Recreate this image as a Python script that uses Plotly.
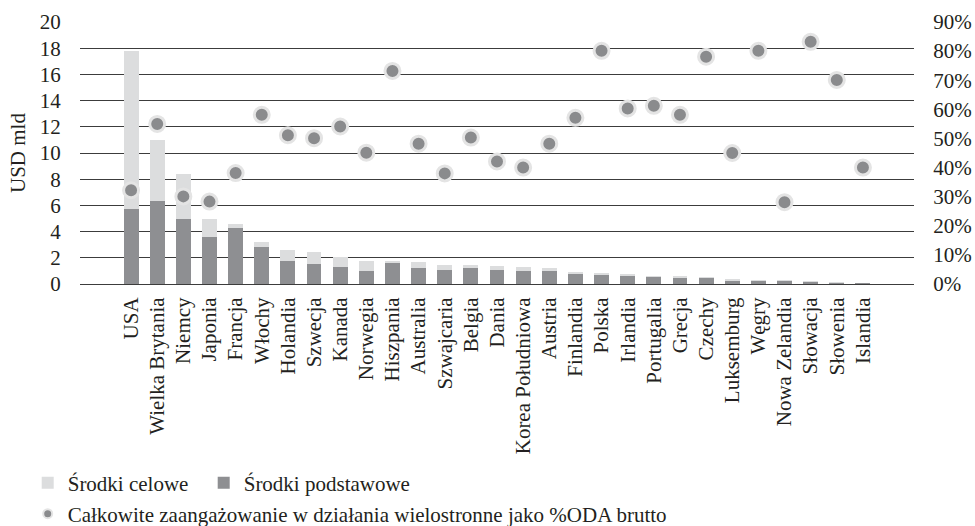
import plotly.graph_objects as go

countries = ["USA", "Wielka Brytania", "Niemcy", "Japonia", "Francja", "Włochy", "Holandia",
             "Szwecja", "Kanada", "Norwegia", "Hiszpania", "Australia", "Szwajcaria", "Belgia",
             "Dania", "Korea Południowa", "Austria", "Finlandia", "Polska", "Irlandia",
             "Portugalia", "Grecja", "Czechy", "Luksemburg", "Węgry", "Nowa Zelandia",
             "Słowacja", "Słowenia", "Islandia"]

srodki_podstawowe = [5.74, 6.35, 4.98, 3.58, 4.24, 2.80, 1.75, 1.50, 1.27, 0.97, 1.65, 1.19,
                     1.07, 1.19, 1.07, 1.02, 1.02, 0.76, 0.76, 0.64, 0.58, 0.53, 0.48, 0.28,
                     0.28, 0.23, 0.18, 0.08, 0.03]
srodki_celowe = [12.06, 4.65, 3.42, 1.40, 0.36, 0.40, 0.85, 0.96, 0.81, 0.81, 0.07, 0.49,
                 0.40, 0.28, 0.33, 0.30, 0.17, 0.18, 0.03, 0.10, 0.02, 0.02, 0.02, 0.13,
                 0.02, 0.01, 0.01, 0.01, 0.0]
procent_oda = [32.2, 55.0, 30.1, 28.3, 38.1, 58.1, 51.1, 50.1, 54.1, 45.1, 73.2, 48.2, 38.0,
               50.3, 42.1, 40.0, 48.2, 57.1, 80.1, 60.3, 61.2, 58.1, 78.1, 45.0, 80.1, 28.1,
               83.2, 70.1, 40.0]

FONT = "Liberation Serif, Times New Roman, DejaVu Serif, serif"
TXT = "#231f20"
FS = 21
SCATTER_NAME = "Całkowite zaangażowanie w działania wielostronne jako %ODA brutto"

fig = go.Figure()
fig.add_trace(go.Bar(x=countries, y=srodki_podstawowe, name="Środki podstawowe",
                     marker=dict(color="#8e8f92", line=dict(width=0)), legend="legend3"))
fig.add_trace(go.Bar(x=countries, y=srodki_celowe, name="Środki celowe",
                     marker=dict(color="#dcddde", line=dict(width=0)), legend="legend"))
fig.add_trace(go.Scatter(x=countries, y=procent_oda, yaxis="y2", mode="markers",
                         name=SCATTER_NAME, showlegend=False,
                         marker=dict(size=15, color="#8a8b8d", line=dict(width=3, color="#e4e4e4"))))
# legend-only entry with a smaller symbol, as in the reference legend
fig.add_trace(go.Scatter(x=[None], y=[None], yaxis="y2", mode="markers", name=SCATTER_NAME,
                         marker=dict(size=9, color="#8a8b8d", line=dict(width=2, color="#e4e4e4")),
                         legend="legend2", hoverinfo="skip"))

leg_common = dict(orientation="h", xref="container", yref="container", xanchor="left",
                  yanchor="middle", font=dict(size=FS, family=FONT, color=TXT), itemwidth=30,
                  bgcolor="rgba(0,0,0,0)")

fig.update_layout(
    width=975, height=526,
    barmode="stack", bargap=0.43,
    paper_bgcolor="white", plot_bgcolor="white",
    font=dict(family=FONT, size=FS, color=TXT),
    margin=dict(l=80, r=61, t=22, b=242),
    showlegend=True,
    xaxis=dict(tickangle=-90, showgrid=False, showline=False, ticks="outside", ticklen=4,
               tickcolor="rgba(0,0,0,0)", automargin=False,
               tickfont=dict(size=FS, family=FONT, color=TXT)),
    yaxis=dict(range=[0, 20], dtick=2, showgrid=True, gridcolor="#3c3c3c", gridwidth=1,
               zeroline=True, zerolinecolor="#3c3c3c", zerolinewidth=1, showline=False,
               ticks="outside", ticklen=14, tickcolor="rgba(0,0,0,0)", automargin=False,
               tickfont=dict(size=FS, family=FONT, color=TXT)),
    yaxis2=dict(range=[0, 90], dtick=10, ticksuffix="%", overlaying="y", side="right",
                showgrid=False, zeroline=False, showline=False, automargin=False,
                ticks="outside", ticklen=14, tickcolor="rgba(0,0,0,0)",
                tickfont=dict(size=FS, family=FONT, color=TXT)),
    legend=dict(leg_common, x=27.7 / 975, y=1 - 483 / 526),
    legend3=dict(leg_common, x=203.7 / 975, y=1 - 483 / 526),
    legend2=dict(leg_common, x=27.7 / 975, y=1 - 514 / 526),
    annotations=[dict(text="USD mld", xref="paper", yref="paper", x=-62 / 834, y=0.5,
                      xanchor="center", yanchor="middle", textangle=-90, showarrow=False,
                      font=dict(size=FS, family=FONT, color=TXT))],
)

fig.write_html("out.html", config={"displayModeBar": False},
               post_script="document.body.style.margin='0';")
